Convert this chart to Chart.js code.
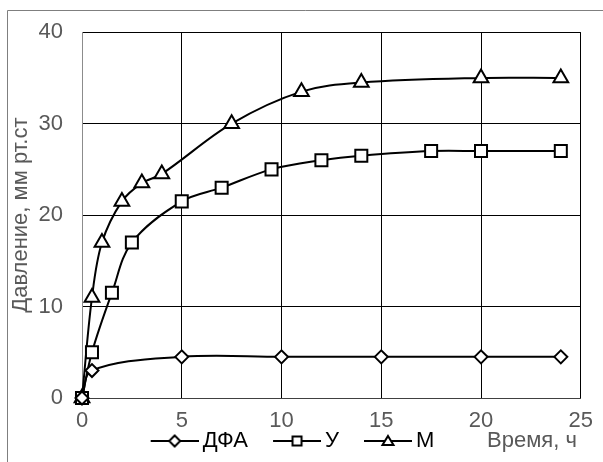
<!DOCTYPE html>
<html>
<head>
<meta charset="utf-8">
<script src="https://cdn.jsdelivr.net/npm/chart.js@4/dist/chart.umd.min.js"></script>
<style>
  html, body { margin: 0; padding: 0; background: #fff; }
  #wrap { width: 603px; height: 462px; }
</style>
</head>
<body>
<div id="wrap"><canvas id="pressureChart" width="603" height="462"></canvas></div>
<script>
// Время, ч / Давление, мм рт.ст
const dfaX = [0, 0.5, 5, 10, 15, 20, 24];
const dfaY = [0, 3, 4.5, 4.5, 4.5, 4.5, 4.5];

const uX = [0, 0.5, 1.5, 2.5, 5, 7, 9.5, 12, 14, 17.5, 20, 24];
const uY = [0, 5, 11.5, 17, 21.5, 23, 25, 26, 26.5, 27, 27, 27];

const mX = [0, 0.5, 1, 2, 3, 4, 7.5, 11, 14, 20, 24];
const mY = [0, 11, 17, 21.5, 23.5, 24.5, 30, 33.5, 34.5, 35, 35];

const seriesNames = ["ДФА", "У", "М"];
const xTicks = [0, 5, 10, 15, 20, 25];
const yTicks = [0, 10, 20, 30, 40];

const TEXT_GREY = "#595959";
const FONT = "'Liberation Sans', Arial, sans-serif";
const FONT_SIZE = 22;

function toPoints(xs, ys) {
  return xs.map((x, i) => ({ x: x, y: ys[i] }));
}

// legend symbol: line with an open marker in the middle,
// transparent margin on the left gives the gap between items
function legendSymbol(shape) {
  const c = document.createElement("canvas");
  c.width = 80;
  c.height = 22;
  const g = c.getContext("2d");
  g.strokeStyle = "#000";
  g.lineWidth = 2;
  g.beginPath();
  g.moveTo(32, 11);
  g.lineTo(80, 11);
  g.stroke();
  const cx = 56, cy = 11;
  g.beginPath();
  if (shape === "diamond") {
    g.moveTo(cx, cy - 5.5);
    g.lineTo(cx + 5.5, cy);
    g.lineTo(cx, cy + 5.5);
    g.lineTo(cx - 5.5, cy);
  } else if (shape === "square") {
    g.rect(cx - 4.5, cy - 4.5, 9, 9);
  } else {
    g.moveTo(cx, cy - 5);
    g.lineTo(cx + 5.5, cy + 4);
    g.lineTo(cx - 5.5, cy + 4);
  }
  g.closePath();
  g.fillStyle = "#fff";
  g.fill();
  g.stroke();
  return c;
}

const legendShapes = ["diamond", "square", "triangle"];

function seriesStyle(label, data, pointStyle, radius) {
  return {
    label: label,
    data: data,
    borderColor: "#000",
    borderWidth: 2,
    backgroundColor: "#fff",
    pointStyle: pointStyle,
    pointRadius: radius,
    pointBorderWidth: 2,
    pointBackgroundColor: "#fff",
    pointBorderColor: "#000",
    tension: 0.35,
    fill: false,
    clip: false,
  };
}

// extra drawing: outer frame, legend nudge and the x-axis caption next to the legend
const extras = {
  id: "extras",
  afterLayout(chart) {
    if (chart.legend) {
      chart.legend.left -= 16;
      chart.legend.right -= 16;
    }
  },
  afterDraw(chart) {
    const ctx = chart.ctx;
    ctx.save();
    ctx.strokeStyle = "#7f7f7f";
    ctx.lineWidth = 1;
    ctx.beginPath();
    ctx.moveTo(7.5, 470);
    ctx.lineTo(7.5, 10.5);
    ctx.lineTo(610, 10.5);
    ctx.stroke();
    ctx.fillStyle = TEXT_GREY;
    ctx.font = FONT_SIZE + "px " + FONT;
    ctx.textBaseline = "middle";
    ctx.textAlign = "left";
    ctx.fillText("Время, ч", 487, 441);
    ctx.restore();
  },
};

const ctx = document.getElementById("pressureChart").getContext("2d");
new Chart(ctx, {
  type: "line",
  data: {
    datasets: [
      seriesStyle(seriesNames[0], toPoints(dfaX, dfaY), "rectRot", 6.5),
      seriesStyle(seriesNames[1], toPoints(uX, uY), "rect", 8.5),
      seriesStyle(seriesNames[2], toPoints(mX, mY), "triangle", 8.5),
    ],
  },
  options: {
    responsive: false,
    animation: false,
    layout: { padding: { left: 8, right: 19, top: 32, bottom: 0 } },
    scales: {
      x: {
        type: "linear",
        min: xTicks[0],
        max: xTicks[xTicks.length - 1],
        afterBuildTicks(scale) {
          scale.ticks = xTicks.map((v) => ({ value: v }));
        },
        afterFit(scale) {
          scale.height = 32;
        },
        ticks: { color: TEXT_GREY, font: { size: FONT_SIZE, family: FONT }, padding: 10 },
        grid: { color: "#000", lineWidth: 1, drawTicks: false },
        border: { color: "#404040" },
      },
      y: {
        min: yTicks[0],
        max: yTicks[yTicks.length - 1],
        afterBuildTicks(scale) {
          scale.ticks = yTicks.map((v) => ({ value: v }));
        },
        afterFit(scale) {
          scale.width = 74;
        },
        ticks: { color: TEXT_GREY, font: { size: FONT_SIZE, family: FONT }, padding: 19 },
        grid: { color: "#000", lineWidth: 1, drawTicks: false },
        border: { color: "#8c8c8c" },
        title: {
          display: true,
          text: "Давление, мм рт.ст",
          color: TEXT_GREY,
          font: { size: FONT_SIZE, family: FONT },
          padding: 0,
        },
      },
    },
    plugins: {
      legend: {
        position: "bottom",
        labels: {
          color: TEXT_GREY,
          font: { size: FONT_SIZE, family: FONT },
          padding: 0,
          usePointStyle: true,
          pointStyleWidth: 66,
          generateLabels(chart) {
            return chart.data.datasets.map((ds, i) => ({
              text: ds.label,
              datasetIndex: i,
              pointStyle: legendSymbol(legendShapes[i]),
              fillStyle: "#fff",
              strokeStyle: "#000",
              lineWidth: 0,
              hidden: false,
            }));
          },
        },
      },
      tooltip: { enabled: false },
    },
  },
  plugins: [extras],
});
</script>
</body>
</html>
